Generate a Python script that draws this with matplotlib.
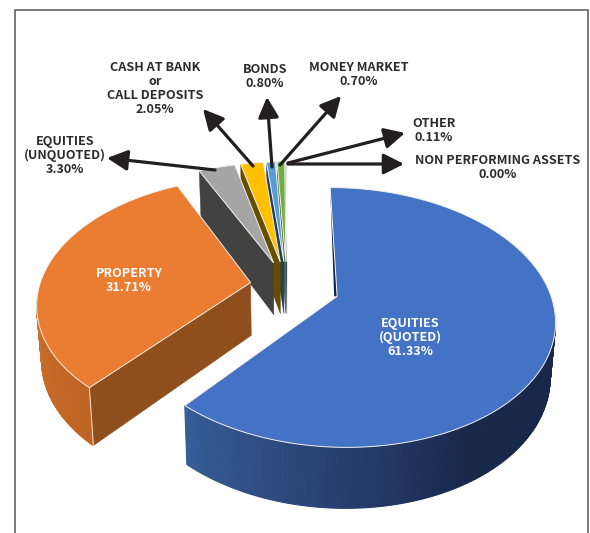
import numpy as np
import matplotlib
matplotlib.use("Agg")
import matplotlib.pyplot as plt

# Portfolio allocation, clockwise from twelve o'clock
names = ["EQUITIES\n(QUOTED)", "PROPERTY", "EQUITIES\n(UNQUOTED)", "CASH AT BANK\nor\nCALL DEPOSITS",
         "BONDS", "MONEY MARKET", "OTHER", "NON PERFORMING ASSETS"]
shares = [61.33, 31.71, 3.30, 2.05, 0.80, 0.70, 0.11, 0.00]
face_colors = ["#4472C4", "#EB7D32", "#A5A5A5", "#FFC000", "#5B9BD5", "#70AD47", "#264478", "#9E480E"]
wall_colors = ["#2F5597", "#8F4E1C", "#424242", "#664D00", "#1F3F63", "#3F6B25", "#15264A", "#5A2A08"]
explode = [0.25, 0.175, 0.20, 0.20, 0.20, 0.20, 0.20, 0.20]

# Label block centres and arrow ends for outside labels
label_pos = [(410, 337.5), (129, 280.5), (65, 155.5), (155, 88.5), (265, 76.5), (359, 74.5), (434, 130.5), (498, 167.5)]
arrow_ends = {2: ((215, 170), (107, 158)), 3: ((253, 166), (203, 109)), 4: ((272, 167), (267, 97)),
              5: ((280, 165), (341, 96)), 6: ((288, 163), (405, 133)), 7: ((288, 164), (404, 164))}

# Camera model for the tilted disc
CX, CY = 287.0, 285.5
A, B, K = 211.0, 123.0, 0.16
DEPTH, SHRINK = 53.0, 0.98
START_DEG = 0.0


def top_point(u, v):
    w = 1 - K * v
    return np.array([CX + A * u / w, CY + B * v / w])


def bottom_point(u, v):
    w = 1 - K * v
    p = top_point(u, v)
    return np.array([CX + (p[0] - CX) * SHRINK, CY + (p[1] - CY) * SHRINK + DEPTH / w])


def lerp(c0, c1, t):
    return tuple((1 - t) * a / 255 + t * b / 255 for a, b in zip(c0, c1))


fig = plt.figure(figsize=(5.9, 5.33), dpi=100)
ax = fig.add_axes([0, 0, 1, 1])
ax.set_xlim(0, 590)
ax.set_ylim(533, 0)
ax.axis("off")

# Outer frame, open at the bottom
ax.plot([14.5, 14.5, 588, 588], [533, 9.5, 9.5, 533], color="#555555", lw=1.1, zorder=0)

bounds = START_DEG + 3.6 * np.concatenate([[0], np.cumsum(shares)])
FONT = {"family": "Noto Sans CJK SC", "weight": "bold", "fontsize": 9.1}

# Far slices first so nearer ones overlap them
for i in reversed(range(len(shares))):
    t0, t1 = np.radians(bounds[i]), np.radians(bounds[i + 1])
    if t1 - t0 < 1e-6:
        continue
    mid = (t0 + t1) / 2
    ou, ov = explode[i] * np.sin(mid), -explode[i] * np.cos(mid)
    th = np.linspace(t0, t1, max(int(np.degrees(t1 - t0) * 1.5), 4))
    us, vs = ou + np.sin(th), ov - np.cos(th)

    # Start-side wall
    rim_t, apex_t = top_point(us[0], vs[0]), top_point(ou, ov)
    rim_b, apex_b = bottom_point(us[0], vs[0]), bottom_point(ou, ov)
    if i == 0:
        ax.fill(*zip(rim_t, apex_t + np.array([-3.0, 0]), apex_t), color="#16264A", lw=0, zorder=2)
    else:
        ax.fill(*zip(rim_t, apex_t, apex_b, rim_b), color=wall_colors[i], lw=0.3, zorder=2)

    # Outer curved wall, shaded along its length; only the near part of the rim shows
    if i < 2:
        for j in range(len(th) - 1):
            if np.cos(th[j]) > -0.15:
                continue
            deg = np.degrees(th[j])
            if i == 0:
                if deg < 150:
                    col = (24 / 255, 40 / 255, 75 / 255)
                elif deg < 180:
                    col = lerp((24, 40, 75), (38, 62, 110), (deg - 150) / 30)
                else:
                    col = lerp((38, 62, 110), (54, 94, 152), (deg - 180) / (bounds[1] - 180))
            else:
                f = (deg - bounds[1]) / (bounds[2] - bounds[1])
                col = lerp((190, 100, 36), (215, 120, 48), min(f * 1.5, 1))
            q = [top_point(us[j], vs[j]), top_point(us[j + 1], vs[j + 1]),
                 bottom_point(us[j + 1], vs[j + 1]), bottom_point(us[j], vs[j])]
            ax.fill(*zip(*q), facecolor=col, edgecolor=col, lw=0.8, zorder=2)

    # Top face
    rim = [top_point(a, b) for a, b in zip(us, vs)]
    poly = [apex_t] + rim
    ax.fill(*zip(*poly), facecolor=face_colors[i], edgecolor="#F4F1EC", lw=0.7, joinstyle="miter", zorder=2)

    # Pale seam down the corner of the property slice
    if i == 1:
        ax.plot(*zip(rim_t, rim_b), color="#F2E3D5", lw=0.7, zorder=2)

# Labels and their leader arrows
for i, (name, share, (x, y)) in enumerate(zip(names, shares, label_pos)):
    text = f"{name}\n{share:.2f}%"
    ax.text(x, y, text, ha="center", va="center", linespacing=1.11,
            color="white" if i < 2 else "#2B2B2B", zorder=5, **FONT)

for start, tip in arrow_ends.values():
    ax.annotate("", xy=tip, xytext=start, zorder=4,
                arrowprops=dict(arrowstyle="-|>,head_length=0.95,head_width=0.48", mutation_scale=13,
                                lw=2.3, color="#231F20", shrinkA=0, shrinkB=0))

fig.savefig("out.png", dpi=100)
